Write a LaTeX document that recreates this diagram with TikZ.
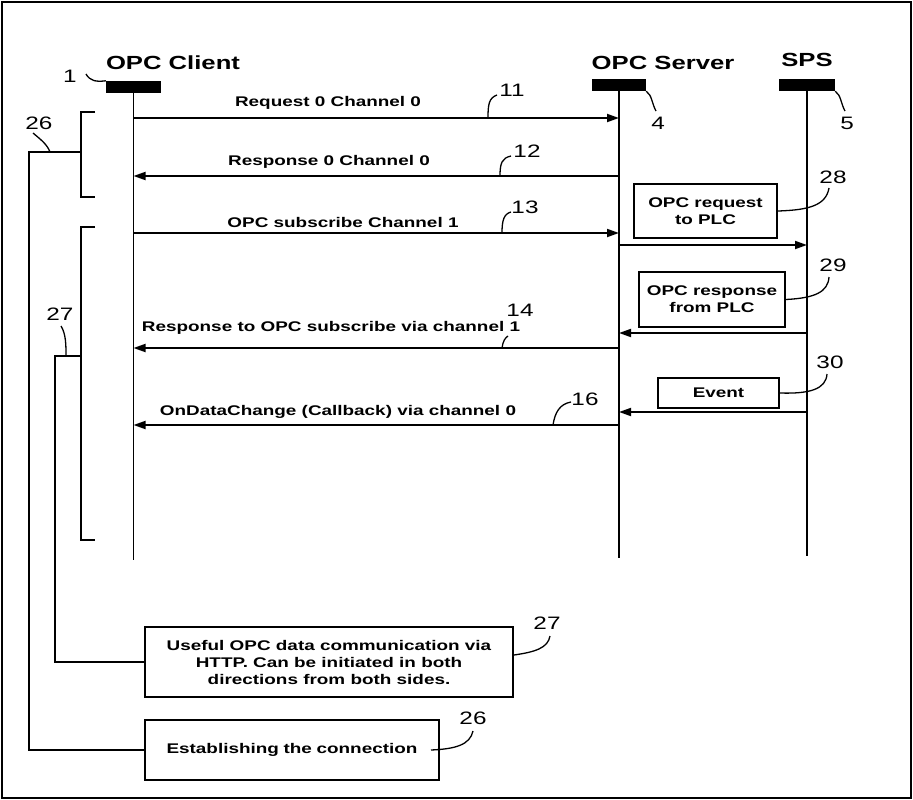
\documentclass[tikz,border=0pt]{standalone}
\usepackage{fontspec}
\usetikzlibrary{arrows.meta}
\newfontfamily\lbl[FakeStretch=1.35]{Liberation Sans}
\tikzset{
  bar/.style={fill=black, minimum width=55pt, minimum height=12pt, inner sep=0pt},
  life/.style={line width=1.7pt},
  msg/.style={line width=1.8pt, -{Triangle[length=12pt,width=8pt]}},
  head/.style={font=\lbl\bfseries\fontsize{19}{22}\selectfont},
  lab/.style={font=\lbl\bfseries\fontsize{14}{17}\selectfont, inner sep=0pt},
  num/.style={font=\lbl\fontsize{18}{20}\selectfont, inner sep=0pt},
  lead/.style={line width=1.3pt},
  brk/.style={line width=1.7pt},
  box/.style={draw, line width=2pt, align=center, inner sep=0pt,
    font=\lbl\bfseries\fontsize{14}{17}\selectfont},
}
\begin{document}
\begin{tikzpicture}[x=1pt,y=-1pt]
\useasboundingbox (0,0) rectangle (913,800);
\draw[line width=2.5pt] (2,2) rectangle (911,798);

% headers
\node[head] (hc) at (173,63) {OPC Client};
\node[head] (hs) at (663,63) {OPC Server};
\node[head] (hp) at (807,60) {SPS};

% bars
\node[bar] (cbar) at (133.5,87) {};
\node[bar, minimum width=54pt] (sbar) at (619,85) {};
\node[bar, minimum width=56pt] (pbar) at (807,85) {};

% lifeline ends
\coordinate (cend) at (133.5,560);
\coordinate (send) at (619,558);
\coordinate (pend) at (807,556);
\draw[life] (cbar.south) -- (cend);
\draw[life] (sbar.south) -- (send);
\draw[life] (pbar.south) -- (pend);

% message end points
\coordinate (c1) at (133.5,118); \coordinate (s1) at (619,118);
\coordinate (c2) at (133.5,176); \coordinate (s2) at (619,176);
\coordinate (c3) at (133.5,233); \coordinate (s3) at (619,233);
\coordinate (s4) at (619,245);   \coordinate (p4) at (807,245);
\coordinate (s5) at (619,333);   \coordinate (p5) at (807,333);
\coordinate (c6) at (133.5,348); \coordinate (s6) at (619,348);
\coordinate (s7) at (619,412);   \coordinate (p7) at (807,412);
\coordinate (c8) at (133.5,425); \coordinate (s8) at (619,425);

\draw[msg] (c1) -- (s1);
\draw[msg] (s2) -- (c2);
\draw[msg] (c3) -- (s3);
\draw[msg] (s4) -- (p4);
\draw[msg] (p5) -- (s5);
\draw[msg] (s6) -- (c6);
\draw[msg] (p7) -- (s7);
\draw[msg] (s8) -- (c8);

% message labels
\node[lab] (l1) at (328,103) {Request 0 Channel 0};
\node[lab] (l2) at (329,162) {Response 0 Channel 0};
\node[lab] (l3) at (343,222) {OPC subscribe Channel 1};
\node[lab] (l6) at (331,328) {Response to OPC subscribe via channel 1};
\node[lab] (l8) at (338,412) {OnDataChange (Callback) via channel 0};

% boxes at SPS side
\node[box, minimum width=143pt, minimum height=54pt] (b28) at (705.5,211) {OPC request\\to PLC};
\node[box, minimum width=146pt, minimum height=55pt] (b29) at (712,299.5) {OPC response\\from PLC};
\node[box, minimum width=121pt, minimum height=30pt] (b30) at (718.5,393) {Event};

% bottom boxes
\node[box, minimum width=368pt, minimum height=70pt] (b27) at (329,662)
  {Useful OPC data communication via\\HTTP. Can be initiated in both\\directions from both sides.};
\node[box, minimum width=294pt, minimum height=60pt, text width=294pt] (b26) at (292,750)
  {Establishing the connection\hspace*{20pt}};

% reference numbers
\node[num] (n1) at (70,76) {1};
\node[num] (n4) at (658,123) {4};
\node[num] (n5) at (847,123) {5};
\node[num] (n11) at (512,90) {11};
\node[num] (n12) at (527,151) {12};
\node[num] (n13) at (525,207) {13};
\node[num] (n14) at (520,310) {14};
\node[num] (n16) at (585,399) {16};
\node[num] (n26a) at (39,123) {26};
\node[num] (n27a) at (60,314) {27};
\node[num] (n28) at (833,177) {28};
\node[num] (n29) at (833,265) {29};
\node[num] (n30) at (830,362) {30};
\node[num] (n27b) at (547,623) {27};
\node[num] (n26b) at (473,718) {26};

% leaders
\draw[lead] (86,74) .. controls (90,81) and (96,82) .. (cbar.north west);
\draw[lead] (sbar.south east) .. controls (652,95) and (652,104) .. (656,111);
\draw[lead] (pbar.south east) .. controls (841,95) and (841,104) .. (845,111);
\draw[lead] (488,118) .. controls (488,104) and (489,98) .. (497,95);
\draw[lead] (500,176) .. controls (500,163) and (502,158) .. (511,156);
\draw[lead] (502,233) .. controls (502,220) and (504,214) .. (511,212);
\draw[lead] (502,348) .. controls (503,341) and (505,338) .. (508,336);
\draw[lead] (553,425) .. controls (555,412) and (560,404) .. (571,402);
\draw[lead] (33,133) .. controls (40,139) and (47,144) .. (50,152);
\draw[lead] (61,326) .. controls (66,334) and (66,345) .. (66,356);
\draw[lead] (b28.east) .. controls (810,210) and (826,205) .. (829,188);
\draw[lead] (b29.east) .. controls (815,298) and (828,292) .. (829,277);
\draw[lead] (b30.east) .. controls (810,394) and (826,389) .. (827,374);
\draw[lead] ([yshift=7pt]b27.east) .. controls (535,652) and (548,648) .. (550,636);
\draw[lead] (431,750) .. controls (455,749) and (470,745) .. (473,731);

% brackets
\coordinate (br26t) at (95,112); \coordinate (br26b) at (95,197);
\coordinate (br26m) at (81,152);
\draw[brk] (br26t) -- (81,112) -- (81,197) -- (br26b);
\draw[brk] (br26m) -- (29,152) |- (b26.west);
\coordinate (br27t) at (95,227); \coordinate (br27b) at (95,540);
\coordinate (br27m) at (81,356);
\draw[brk] (br27t) -- (81,227) -- (81,540) -- (br27b);
\draw[brk] (br27m) -- (55,356) |- (b27.west);
\end{tikzpicture}
\end{document}
